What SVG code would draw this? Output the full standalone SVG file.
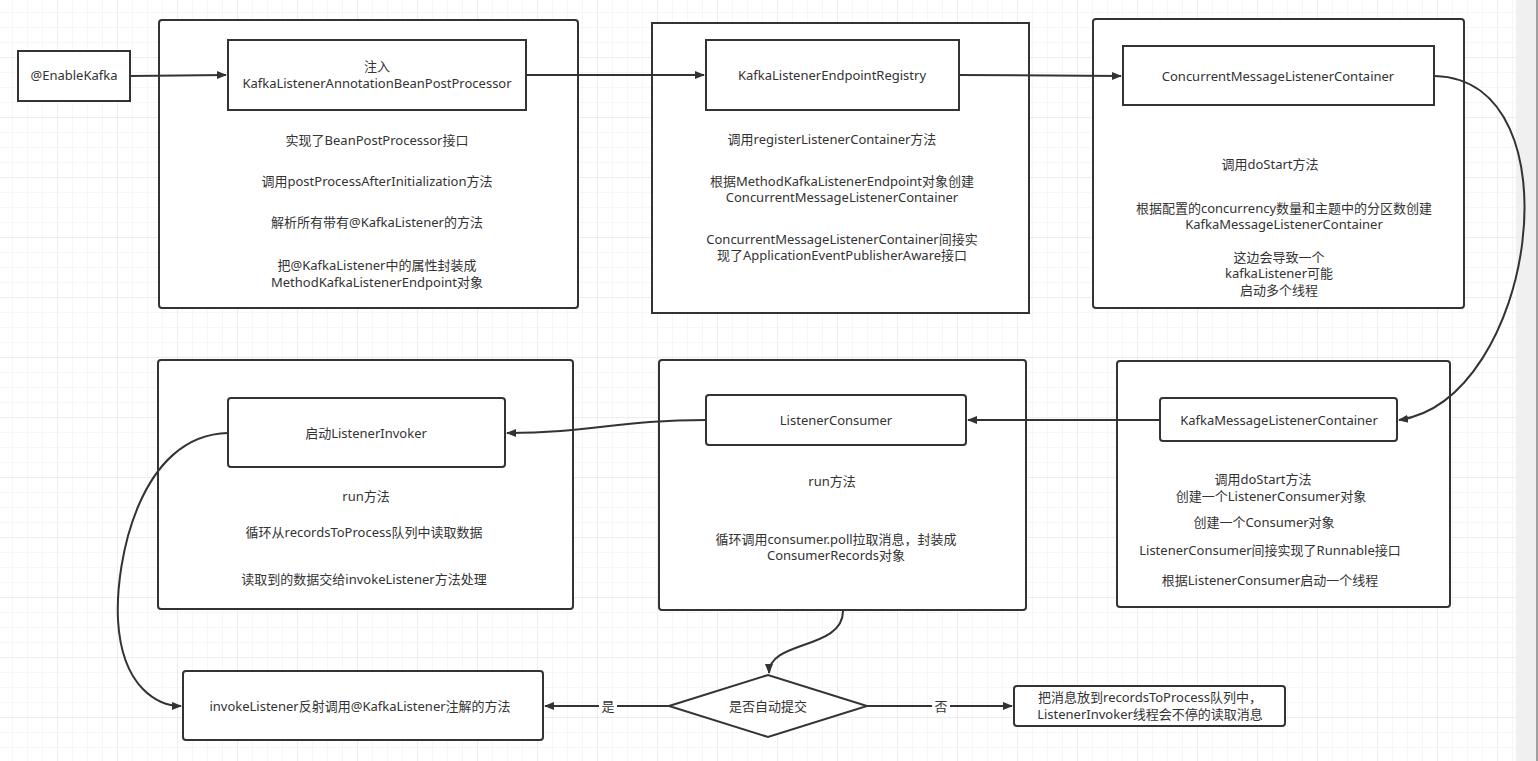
<svg xmlns="http://www.w3.org/2000/svg" width="1538" height="761" viewBox="0 0 1538 761">
<defs>
<pattern id="gMinor" width="15" height="15" patternUnits="userSpaceOnUse" x="-2" y="-2">
<path d="M15 0V15M0 15H15" fill="none" stroke="#efefef" stroke-width="1"/>
</pattern>
<pattern id="gMajor" width="60" height="60" patternUnits="userSpaceOnUse" x="-2" y="-2">
<path d="M60 0V60M0 60H60" fill="none" stroke="#e3e3e3" stroke-width="1"/>
</pattern>
<marker id="arr" viewBox="0 0 10 10" refX="9" refY="5" markerWidth="10" markerHeight="10" markerUnits="userSpaceOnUse" orient="auto">
<path d="M0,1 L10,5 L0,9 Z" fill="#333"/>
</marker>
<style>
.box{fill:#fff;stroke:#333;stroke-width:2}
.t{font-family:"Noto Sans","Noto Sans CJK SC",sans-serif;font-size:13px;fill:#333;text-anchor:middle}
.c{fill:none;stroke:#333;stroke-width:2}
.lbl{font-family:"Noto Sans","Noto Sans CJK SC",sans-serif;font-size:13px;fill:#333;text-anchor:middle}
</style>
</defs>
<rect x="0" y="0" width="1538" height="761" fill="#fff"/>
<rect x="0" y="0" width="1516" height="761" fill="url(#gMinor)"/>
<rect x="0" y="0" width="1516" height="761" fill="url(#gMajor)"/>
<rect x="1516" y="0" width="22" height="761" fill="#f0f0f0"/>
<rect x="1536" y="0" width="2" height="761" fill="#a0a0a0"/>

<g id="enableKafka">
<rect class="box" x="18" y="51" width="112" height="50"/>
<text class="t" x="74" y="80">@EnableKafka</text>
</g>

<g id="container1">
<rect class="box" x="159" y="20" width="419" height="288" rx="3"/>
<rect class="box" x="228" y="40" width="298" height="70"/>
<text class="t" x="377" y="71">注入</text>
<text class="t" x="377" y="88">KafkaListenerAnnotationBeanPostProcessor</text>
<text class="t" x="377" y="145">实现了BeanPostProcessor接口</text>
<text class="t" x="377" y="186">调用postProcessAfterInitialization方法</text>
<text class="t" x="377" y="227">解析所有带有@KafkaListener的方法</text>
<text class="t" x="377" y="270">把@KafkaListener中的属性封装成</text>
<text class="t" x="377" y="287">MethodKafkaListenerEndpoint对象</text>
</g>

<g id="container2">
<rect class="box" x="652" y="23" width="377" height="290"/>
<rect class="box" x="706" y="40" width="253" height="70"/>
<text class="t" x="832" y="80">KafkaListenerEndpointRegistry</text>
<text class="t" x="832" y="144">调用registerListenerContainer方法</text>
<text class="t" x="842" y="186">根据MethodKafkaListenerEndpoint对象创建</text>
<text class="t" x="842" y="202">ConcurrentMessageListenerContainer</text>
<text class="t" x="842" y="244">ConcurrentMessageListenerContainer间接实</text>
<text class="t" x="842" y="260">现了ApplicationEventPublisherAware接口</text>
</g>

<g id="container3">
<rect class="box" x="1093" y="19" width="371" height="289" rx="3"/>
<rect class="box" x="1123" y="46" width="311" height="59"/>
<text class="t" x="1278" y="81">ConcurrentMessageListenerContainer</text>
<text class="t" x="1270" y="169">调用doStart方法</text>
<text class="t" x="1284" y="213">根据配置的concurrency数量和主题中的分区数创建</text>
<text class="t" x="1284" y="229">KafkaMessageListenerContainer</text>
<text class="t" x="1279" y="262">这边会导致一个</text>
<text class="t" x="1279" y="278">kafkaListener可能</text>
<text class="t" x="1279" y="295">启动多个线程</text>
</g>

<g id="container4">
<rect class="box" x="1117" y="361" width="333" height="246" rx="3"/>
<rect class="box" x="1160" y="398" width="237" height="43" rx="3"/>
<text class="t" x="1279" y="425">KafkaMessageListenerContainer</text>
<text class="t" x="1263" y="484">调用doStart方法</text>
<text class="t" x="1271" y="501">创建一个ListenerConsumer对象</text>
<text class="t" x="1264" y="527">创建一个Consumer对象</text>
<text class="t" x="1270" y="555">ListenerConsumer间接实现了Runnable接口</text>
<text class="t" x="1270" y="585">根据ListenerConsumer启动一个线程</text>
</g>

<g id="container5">
<rect class="box" x="659" y="360" width="367" height="250" rx="3"/>
<rect class="box" x="706" y="395" width="260" height="50" rx="3"/>
<text class="t" x="836" y="425">ListenerConsumer</text>
<text class="t" x="832" y="486">run方法</text>
<text class="t" x="836" y="544">循环调用consumer.poll拉取消息，封装成</text>
<text class="t" x="836" y="560">ConsumerRecords对象</text>
</g>

<g id="container6">
<rect class="box" x="158" y="360" width="415" height="249" rx="3"/>
<rect class="box" x="228" y="398" width="277" height="69" rx="3"/>
<text class="t" x="366" y="438">启动ListenerInvoker</text>
<text class="t" x="366" y="501">run方法</text>
<text class="t" x="364" y="537">循环从recordsToProcess队列中读取数据</text>
<text class="t" x="364" y="584">读取到的数据交给invokeListener方法处理</text>
</g>

<g id="invokeListener">
<rect class="box" x="183" y="671" width="360" height="69" rx="3"/>
<text class="t" x="360" y="711">invokeListener反射调用@KafkaListener注解的方法</text>
</g>

<g id="decision">
<polygon class="box" points="669,706 768,675 867,706 768,737"/>
<text class="t" x="768" y="711">是否自动提交</text>
</g>

<g id="putQueue">
<rect class="box" x="1014" y="686" width="271" height="40" rx="3"/>
<text class="t" x="1150" y="702">把消息放到recordsToProcess队列中，</text>
<text class="t" x="1150" y="719">ListenerInvoker线程会不停的读取消息</text>
</g>

<g id="connectors">
<path class="c" d="M130,76 L226,75" marker-end="url(#arr)"/>
<path class="c" d="M526,75 L704,75" marker-end="url(#arr)"/>
<path class="c" d="M959,75 L1121,76" marker-end="url(#arr)"/>
<path class="c" d="M1435,76 C1580,80 1535,400 1399,420" marker-end="url(#arr)"/>
<path class="c" d="M1160,420 L968,420" marker-end="url(#arr)"/>
<path class="c" d="M706,420 C620,420 590,433 507,433" marker-end="url(#arr)"/>
<path class="c" d="M228,433 C140,435 115,560 118,620 C122,690 160,706 181,706" marker-end="url(#arr)"/>
<path class="c" d="M843,611 C843,650 769,640 769,673" marker-end="url(#arr)"/>
<path class="c" d="M669,706 L545,706" marker-end="url(#arr)"/>
<path class="c" d="M867,706 L1012,706" marker-end="url(#arr)"/>
<rect x="599" y="698" width="18" height="16" fill="#fff"/>
<text class="lbl" x="608" y="711">是</text>
<rect x="932" y="698" width="18" height="16" fill="#fff"/>
<text class="lbl" x="941" y="711">否</text>
</g>
</svg>
